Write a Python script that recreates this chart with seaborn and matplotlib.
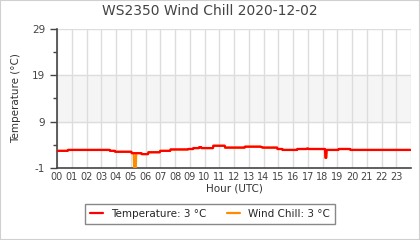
import numpy as np
import pandas as pd
import matplotlib
matplotlib.use("Agg")
import matplotlib.pyplot as plt
import seaborn as sns
from matplotlib.patches import Rectangle

# ---- data ----
seg_start = [0, 0.75, 3.6, 3.95, 5.07, 5.23, 5.37, 5.75, 6.2, 7.0, 7.7, 8.9, 9.25, 9.65, 9.8,
             10.6, 11.4, 12.75, 13.85, 13.95, 14.95, 15.3, 16.3, 16.95, 17.05, 18.2, 18.28,
             19.1, 19.9, 24]
temp_vals = [2.7, 2.9, 2.7, 2.5, 2.2, 2.2, 2.2, 2.0, 2.4, 2.7, 3.0, 3.1, 3.3, 3.5, 3.3,
             3.8, 3.4, 3.6, 3.5, 3.4, 3.1, 2.9, 3.1, 3.2, 3.1, 1.2, 2.9,
             3.1, 2.9, 2.9]
chill_vals = [2.7, 2.9, 2.7, 2.5, 2.2, -0.9, 2.2, 2.0, 2.4, 2.7, 3.0, 3.1, 3.3, 3.5, 3.3,
              3.8, 3.4, 3.6, 3.5, 3.4, 3.1, 2.9, 3.1, 3.2, 3.1, 1.2, 2.9,
              3.1, 2.9, 2.9]
hour_labels = [f"{h:02d}" for h in range(24)]
y_ticks = [-1, 9, 19, 29]
title = "WS2350 Wind Chill 2020-12-02"


def build(starts, vals):
    xs, ys = [], []
    for i in range(len(starts) - 1):
        xs += [starts[i], starts[i + 1] - 0.03]
        ys += [vals[i], vals[i]]
    return xs, ys


tx, ty = build(seg_start, temp_vals)
cx, cy = build(seg_start, chill_vals)
df_t = pd.DataFrame({"hour": tx, "value": ty})
df_c = pd.DataFrame({"hour": cx, "value": cy})

sns.set_style("white")
plt.rcParams["font.family"] = ["DejaVu Sans"]
plt.rcParams["axes.unicode_minus"] = False

fig = plt.figure(figsize=(4.2, 2.4), dpi=100)
ax = fig.add_axes([57 / 420, 1 - 168 / 240, (411 - 57) / 420, (168 - 29) / 240])

ax.axhspan(9, 19, color="#f5f5f5", zorder=0)
for h in range(0, 25):
    ax.axvline(h, color="#dddddd", lw=1, zorder=1)
for v in [9, 19, 29]:
    ax.axhline(v, color="#dddddd", lw=1, zorder=1)

sns.lineplot(data=df_c, x="hour", y="value", ax=ax, color="#ff8c00", lw=1.6,
             label="Wind Chill: 3 °C", zorder=3, sort=False)
sns.lineplot(data=df_t, x="hour", y="value", ax=ax, color="#ff0000", lw=1.6,
             label="Temperature: 3 °C", zorder=4, sort=False)

ax.set_xlim(0, 24)
ax.set_ylim(-1, 29)
ax.set_xticks(range(24))
ax.set_xticklabels(hour_labels)
ax.set_yticks(y_ticks)
ax.set_yticks([4, 14, 24], minor=True)
ax.tick_params(axis="x", length=0, labelsize=7, colors="#444444", pad=3)
ax.tick_params(axis="y", which="major", length=5, width=1, labelsize=7.5,
               colors="#444444", left=True)
ax.tick_params(axis="y", which="minor", length=3, width=1, color="#444444", left=True)
for s in ["top", "right"]:
    ax.spines[s].set_visible(False)
for s in ["left", "bottom"]:
    ax.spines[s].set_color("#444444")
    ax.spines[s].set_linewidth(1.2)

ax.set_xlabel("Hour (UTC)", fontsize=7.5, color="#333333", labelpad=1)
ax.set_ylabel("Temperature (°C)", fontsize=7.5, color="#333333", labelpad=8)
fig.text(0.5, 1 - 11 / 240, title, ha="center", va="center", fontsize=10, color="#444444")

handles, labels = ax.get_legend_handles_labels()
order = [1, 0]
ax.legend([handles[i] for i in order], [labels[i] for i in order],
          loc="center", bbox_to_anchor=(0.5, 1 - 214 / 240), bbox_transform=fig.transFigure,
          ncol=2, fontsize=7.5, frameon=True, fancybox=False, edgecolor="#888888",
          handlelength=1.2, columnspacing=2.0, borderpad=0.5, framealpha=1)

fig.add_artist(Rectangle((0, 0), 1, 1, transform=fig.transFigure, fill=False,
                         edgecolor="#d0d0d0", lw=1.5))

fig.savefig("out.png", dpi=100)
